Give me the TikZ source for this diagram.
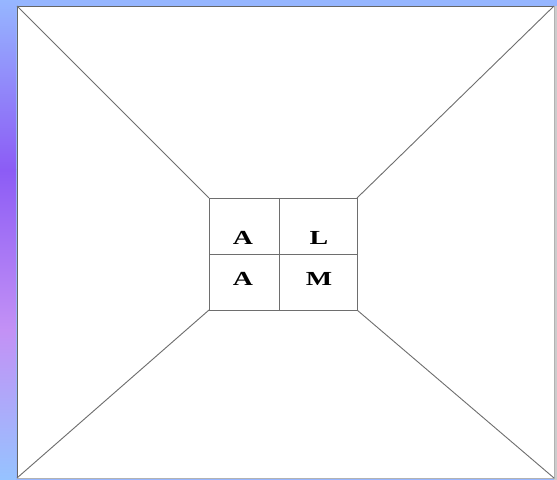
\documentclass[tikz,border=0pt]{standalone}
\usepackage{fontspec}
\setmainfont{Liberation Serif}
\definecolor{ctop}{RGB}{150,182,255}
\definecolor{cmid}{RGB}{140,92,245}
\definecolor{cviol}{RGB}{195,145,245}
\definecolor{cbot}{RGB}{150,195,255}
\definecolor{edge}{RGB}{110,110,110}
\begin{document}
\begin{tikzpicture}[x=1bp,y=1bp,
  line/.style={draw=edge, line width=0.9bp},
  letter/.style={anchor=base, inner sep=0pt, font=\bfseries\fontsize{20}{20}\selectfont}]
\useasboundingbox (0,0) rectangle (557,480);
% background
\fill[ctop] (0,0) rectangle (557,480);
\shade[top color=ctop, bottom color=cmid] (0,310) rectangle (16,480);
\shade[top color=cmid, bottom color=cviol] (0,150) rectangle (16,310);
\shade[top color=cviol, bottom color=cbot] (0,0) rectangle (16,150);
\fill[gray!40] (554,0) rectangle (557,474);
% white panel
\coordinate (otl) at (17,474);
\coordinate (otr) at (554,474);
\coordinate (obl) at (17,2);
\coordinate (obr) at (554,2);
\fill[white] (obl) rectangle (otr);
\draw[line, draw=gray!80!black] (obl) -- (otl) -- (otr);
\draw[line, draw=gray!60] (otr) -- (obr) -- (obl);
% inner box corners
\coordinate (itl) at (209,282);
\coordinate (itr) at (357,282);
\coordinate (ibl) at (209,170);
\coordinate (ibr) at (357,170);
\coordinate (mt) at (279,282);
\coordinate (mb) at (279,170);
\coordinate (ml) at (209,226);
\coordinate (mr) at (357,226);
\draw[line] (ibl) rectangle (itr);
\draw[line] (mt) -- (mb);
\draw[line] (ml) -- (mr);
% diagonals
\draw[line] (otl) -- (itl);
\draw[line] (otr) -- (itr);
\draw[line] (obl) -- (ibl);
\draw[line] (obr) -- (ibr);
% letters
\node[letter] (a1) at (243,235) {\scalebox{1.4}[1]{A}};
\node[letter] (l1) at (319,235) {\scalebox{1.4}[1]{L}};
\node[letter] (a2) at (243,194) {\scalebox{1.4}[1]{A}};
\node[letter] (m2) at (319,194) {\scalebox{1.4}[1]{M}};
\end{tikzpicture}
\end{document}
